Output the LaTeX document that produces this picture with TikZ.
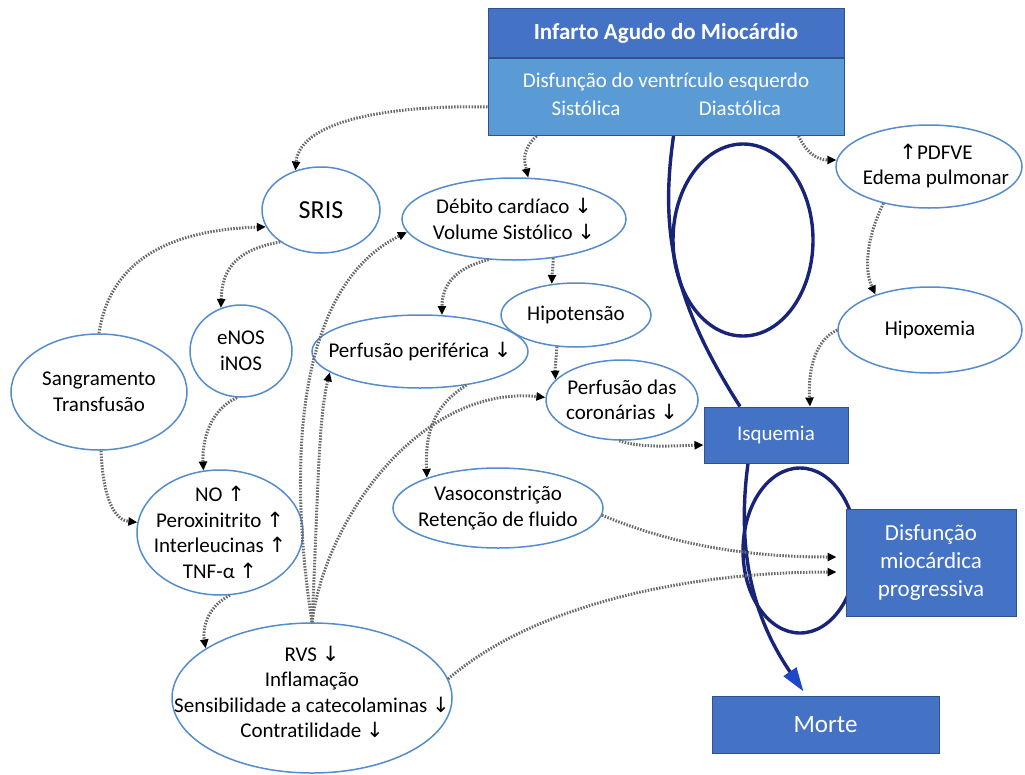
\documentclass[tikz,border=0pt]{standalone}
\usepackage{fontspec}
\setmainfont{Carlito}[Ligatures=NoCommon]
\newfontfamily\symf{DejaVu Sans}
\usetikzlibrary{shapes.geometric,arrows.meta,backgrounds}
\newcommand{\dn}{{\symf\char"2193}}
\newcommand{\upar}{{\symf\char"2191}}
\definecolor{ellc}{RGB}{84,140,205}
\definecolor{boxc}{RGB}{68,114,196}
\definecolor{boxlc}{RGB}{91,155,213}
\definecolor{boxe}{RGB}{47,82,143}
\definecolor{navyc}{RGB}{24,36,120}
\definecolor{dotc}{RGB}{105,105,105}
\definecolor{tipc}{RGB}{30,72,200}
\begin{document}
\begin{tikzpicture}[x=1pt,y=-1pt,
  ell/.style={ellipse, draw=ellc, line width=1.5pt, fill=white, inner sep=0pt},
  txt/.style={align=center, inner sep=0pt, font=\fontsize{21}{25.5}\selectfont},
  bbox/.style={rectangle, draw=boxe, line width=1pt, fill=boxc, inner sep=0pt, text=white, align=center, font=\fontsize{21}{25.5}\selectfont},
  dots/.style={draw=dotc, line width=3pt, dash pattern=on 1.5pt off 1.4pt, -{Triangle[length=9pt,width=8pt,color=black]}},
  navyl/.style={draw=navyc, line width=3.4pt},
]
\path[use as bounding box] (0,0) rectangle (1025,774);

% boxes
\node[bbox, minimum width=356, minimum height=49, font=\bfseries\fontsize{23}{27}\selectfont] (iam) at (666,33) {Infarto Agudo do Miocárdio};
\node[bbox, fill=boxlc, minimum width=356, minimum height=77, anchor=north] (lv) at (iam.south) {};
\node[txt, text=white] (lvt) at (666,82) {Disfunção do ventrículo esquerdo};
\node[txt, text=white] (sis) at (586,108) {Sistólica};
\node[txt, text=white] (dia) at (740,108) {Diastólica};
\node[bbox, minimum width=144, minimum height=56] (isq) at (776,435) {Isquemia};
\node[bbox, minimum width=170, minimum height=107, font=\fontsize{23}{28}\selectfont] (disf) at (931,562.5) {Disfunção\\miocárdica\\progressiva};
\node[bbox, minimum width=227, minimum height=57, font=\fontsize{25}{30}\selectfont] (morte) at (825.5,724.5) {Morte};

% ellipses
\node[ell, minimum width=118, minimum height=86] (sris) at (321,210) {};
\node[txt, font=\fontsize{26}{30}\selectfont] (srist) at (sris) {SRIS};
\node[ell, minimum width=224, minimum height=82] (deb) at (514,219) {};
\node[txt] (debt) at (deb) {Débito cardíaco \dn\\Volume Sistólico \dn};
\node[ell, minimum width=186, minimum height=83] (pdf) at (929,166.5) {};
\node[txt] (pdft) at (936,166) {\upar PDFVE\\Edema pulmonar};
\node[ell, minimum width=150, minimum height=64] (hipot) at (576,315) {};
\node[txt] (hipott) at (hipot) {Hipotensão};
\node[ell, minimum width=184, minimum height=86] (hipox) at (930,330) {};
\node[txt] (hipoxt) at (hipox) {Hipoxemia};
\node[ell, minimum width=102, minimum height=92] (enos) at (241,351) {};
\node[txt] (enost) at (enos) {eNOS\\iNOS};
\node[ell, minimum width=176, minimum height=116] (sang) at (99,392) {};
\node[txt] (sangt) at (sang) {Sangramento\\Transfusão};
\node[ell, minimum width=216, minimum height=73] (pper) at (420,351.5) {};
\node[txt] (ppert) at (pper) {Perfusão periférica \dn};
\node[ell, minimum width=152, minimum height=80] (pcor) at (622,400) {};
\node[txt] (pcort) at (pcor) {Perfusão das\\coronárias \dn};
\node[ell, minimum width=166, minimum height=125] (no) at (220,532.5) {};
\node[txt] (not) at (no) {NO \upar\\Peroxinitrito \upar\\Interleucinas \upar\\TNF-α \upar};
\node[ell, minimum width=210, minimum height=80] (vaso) at (498,508) {};
\node[txt] (vasot) at (vaso) {Vasoconstrição\\Retenção de fluido};
\node[ell, minimum width=280, minimum height=150] (rvs) at (312,698) {};
\node[txt] (rvst) at (312,692) {RVS \dn\\Inflamação\\Sensibilidade a catecolaminas \dn\\Contratilidade \dn};

% navy loops
\begin{pgfonlayer}{background}
\draw[navyl] ([xshift=7.5pt]lv.south) .. controls (660,230) and (672,300) .. ([xshift=-36pt]isq.north);
\draw[navyl] (743,240) ellipse [x radius=70pt, y radius=96pt];
\draw[navyl] (800,550.5) ellipse [x radius=57pt, y radius=82.5pt];
\draw[navyl, -{Triangle[length=24pt,width=15pt,color=tipc]}] ([xshift=-28pt]isq.south) .. controls (735,560) and (758,625) .. ([xshift=-22pt,yshift=4pt]morte.north);
\end{pgfonlayer}

% dotted connectors
\draw[dots] ([yshift=-10pt]lv.west) .. controls (400,105) and (300,118) .. (sris.123);
\draw[dots] ([xshift=49pt]lv.south west) .. controls (522,150) and (524,160) .. (deb.71);
\draw[dots] ([xshift=-46pt]lv.south east) .. controls (805,150) and (815,160) .. (pdf.176);
\draw[dots] (pdf.219) .. controls (870,230) and (862,265) .. (hipox.147);
\draw[dots] (hipox.west) .. controls (815,340) and (808,370) .. ([xshift=34pt]isq.north);
\draw[dots] (deb.-45) .. controls (553,268) and (552,275) .. (hipot.128);
\draw[dots] (deb.238) .. controls (455,268) and (442,285) .. (pper.59);
\draw[dots] (hipot.239) .. controls (556,360) and (555,368) .. (pcor.163);
\draw[dots] (pcor.266) .. controls (640,448) and (670,446) .. ([yshift=-10pt]isq.west);
\draw[dots] (pper.324) .. controls (435,405) and (425,430) .. (vaso.157);
\draw[dots] (vaso.356) .. controls (650,535) and (720,557) .. ([xshift=-9pt,yshift=5.5pt]disf.west);
\draw[dots] (rvs.8) .. controls (540,600) and (700,572) .. ([xshift=-9pt,yshift=-9.5pt]disf.west);
\draw[dots] (sang.north) .. controls (110,260) and (170,230) .. (sris.197);
\draw[dots] (sris.218) .. controls (235,250) and (222,270) .. (enos.115);
\draw[dots] (enos.265) .. controls (210,410) and (202,440) .. (no.105);
\draw[dots] (sang.272) .. controls (103,500) and (115,520) .. (no.173);
\draw[dots] (no.279) .. controls (210,605) and (202,625) .. (rvs.155);
\draw[dots] (rvs.north) .. controls (290,480) and (290,290) .. (deb.187);
\draw[dots] (rvs.north) .. controls (318,500) and (318,420) .. (pper.193);
\draw[dots] (rvs.north) .. controls (325,520) and (420,385) .. (pcor.178);
\end{tikzpicture}
\end{document}
